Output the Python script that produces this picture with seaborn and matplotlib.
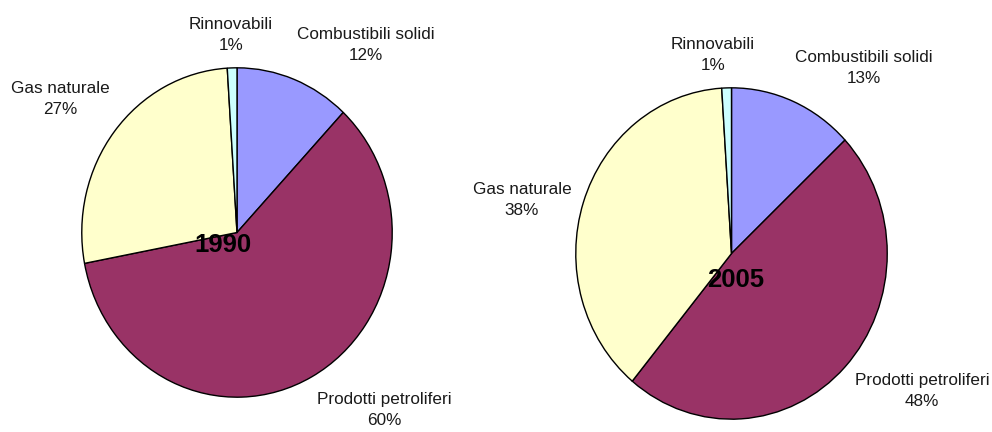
import matplotlib
matplotlib.use("Agg")
import matplotlib.pyplot as plt
import seaborn as sns

# ── Data ─────────────────────────────────────────────────────────────────────
CATEGORIES = ["Combustibili solidi", "Prodotti petroliferi", "Gas naturale", "Rinnovabili"]
YEARS = ["1990", "2005"]
SHARES_1990 = [12, 60, 27, 1]
SHARES_2005 = [13, 48, 38, 1]

# ── Style ────────────────────────────────────────────────────────────────────
sns.set_theme(style="white")
plt.rcParams["font.family"] = ["Liberation Sans", "DejaVu Sans"]
COLORS = ["#9999FF", "#993366", "#FFFFCC", "#CCFFFF"]

W, H = 992, 432
# pie boxes in pixels: (center x, center y, radius x, radius y)
PIE_BOX = {"1990": (237, 232.5, 156, 165.5), "2005": (731.5, 253.5, 156.5, 166.5)}
# label centres in pixels
LABEL_POS = {
    "1990": {"Combustibili solidi": (366, 45), "Prodotti petroliferi": (384, 410),
             "Gas naturale": (60, 99), "Rinnovabili": (231, 35)},
    "2005": {"Combustibili solidi": (864, 68), "Prodotti petroliferi": (922, 391),
             "Gas naturale": (522, 200), "Rinnovabili": (713, 55)},
}
YEAR_POS = {"1990": (223, 245), "2005": (736, 280)}


def px(x, y):
    return x / W, 1 - y / H


def draw_pie(fig, year, shares):
    cx, cy, rx, ry = PIE_BOX[year]
    ax = fig.add_axes([(cx - rx) / W, 1 - (cy + ry) / H, 2 * rx / W, 2 * ry / H])
    ax.pie(shares, colors=COLORS, startangle=90, counterclock=False, radius=1,
           wedgeprops=dict(edgecolor="black", linewidth=1.0))
    ax.set_aspect("auto")
    ax.set_xlim(-1.005, 1.005)
    ax.set_ylim(-1.005, 1.005)
    ax.axis("off")
    for cat, val in zip(CATEGORIES, shares):
        x, y = px(*LABEL_POS[year][cat])
        fig.text(x, y, f"{cat}\n{val}%", ha="center", va="center",
                 fontsize=12.3, color="#1a1a1a", linespacing=1.45)
    x, y = px(*YEAR_POS[year])
    fig.text(x, y, year, ha="center", va="center", fontsize=18.5,
             fontweight="bold", color="black", zorder=10)


fig = plt.figure(figsize=(W / 100, H / 100), dpi=100)
fig.patch.set_facecolor("white")
draw_pie(fig, "1990", SHARES_1990)
draw_pie(fig, "2005", SHARES_2005)
fig.savefig("out.png", dpi=100, facecolor="white")
